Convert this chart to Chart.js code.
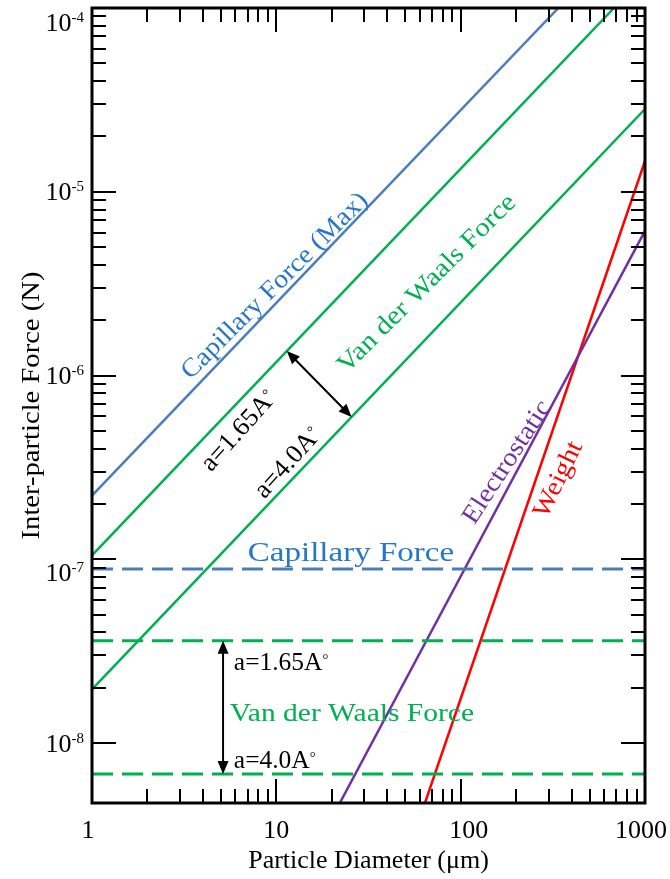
<!DOCTYPE html>
<html>
<head>
<meta charset="utf-8">
<script src="https://cdn.jsdelivr.net/npm/chart.js@4.4.1/dist/chart.umd.min.js"></script>
<style>
  html, body { margin: 0; padding: 0; background: #ffffff; }
  canvas { display: block; }
</style>
</head>
<body>
<canvas id="forces" width="670" height="879"></canvas>
<script>
// Inter-particle forces versus particle diameter (log-log)

// Axis ranges
const diameterRange = [1, 1000];          // µm
const forceRange = [4.72e-9, 1.0e-4];     // N

// Tick labels
const xTickValues = [1, 10, 100, 1000];
const xTickLabels = ['1', '10', '100', '1000'];
const yTickExponents = [-8, -7, -6, -5, -4];

// Force laws for rough contact: end points [diameter µm] -> [force N]
const capMaxDiam = [1, 339];
const capMaxForce = [2.22e-7, 1.0e-4];
const vdw165Diam = [1, 679];
const vdw165Force = [1.05e-7, 1.0e-4];
const vdw40Diam = [1, 1000];
const vdw40Force = [1.96e-8, 2.82e-5];
const elecDiam = [22.1, 1000];
const elecForce = [4.72e-9, 6.12e-6];
const weightDiam = [64.0, 1000];
const weightForce = [4.72e-9, 1.47e-5];

// Size-independent forces (flat lines across the whole range)
const capFlatForce = 8.87e-8;
const vdw165FlatForce = 3.61e-8;
const vdw40FlatForce = 6.79e-9;

const BLUE_LINE = '#4a7ebb';
const BLUE_TEXT = '#2677c8';
const GREEN = '#00b050';
const PURPLE = '#7030a0';
const RED = '#ff0000';
const FONT = '"Liberation Serif", "Times New Roman", serif';

function pairs(xs, ys) { return xs.map((x, i) => ({ x: x, y: ys[i] })); }
function flat(v) { return diameterRange.map(x => ({ x: x, y: v })); }

function solid(data, color) {
  return { data: data, borderColor: color, borderWidth: 2.5, showLine: true,
           pointRadius: 0, fill: false };
}
function dashed(data, color) {
  return { data: data, borderColor: color, borderWidth: 3, showLine: true,
           borderDash: [21, 9], pointRadius: 0, fill: false };
}

const datasets = [
  dashed(flat(capFlatForce), BLUE_LINE),
  dashed(flat(vdw165FlatForce), GREEN),
  dashed(flat(vdw40FlatForce), GREEN),
  solid(pairs(capMaxDiam, capMaxForce), BLUE_LINE),
  solid(pairs(vdw165Diam, vdw165Force), GREEN),
  solid(pairs(vdw40Diam, vdw40Force), GREEN),
  solid(pairs(elecDiam, elecForce), PURPLE),
  solid(pairs(weightDiam, weightForce), RED)
];

// force on a power-law line at diameter d (interpolated in log space)
function onLine(xs, ys, d) {
  const t = (Math.log10(d) - Math.log10(xs[0])) / (Math.log10(xs[1]) - Math.log10(xs[0]));
  return Math.pow(10, Math.log10(ys[0]) + t * (Math.log10(ys[1]) - Math.log10(ys[0])));
}

// draws text made of runs (normal + superscript pieces); stretch widens glyphs
function drawRuns(ctx, runs, x, y, angleDeg, align, color, middle, stretch) {
  const sx = stretch || 1;
  ctx.save();
  ctx.translate(x, y);
  ctx.rotate(angleDeg * Math.PI / 180);
  ctx.scale(sx, 1);
  ctx.fillStyle = color;
  ctx.textBaseline = 'alphabetic';
  let total = 0;
  runs.forEach(r => {
    ctx.font = r.size + 'px ' + FONT;
    r.w = ctx.measureText(r.text).width;
    total += r.w;
  });
  let cx = align === 'center' ? -total / 2 : (align === 'right' ? -total : 0);
  const dy = middle ? runs[0].size * 0.33 : 0;
  runs.forEach(r => {
    ctx.font = r.size + 'px ' + FONT;
    ctx.fillText(r.text, cx, dy - (r.rise || 0));
    cx += r.w;
  });
  ctx.restore();
}

function arrowHead(ctx, tx, ty, fromX, fromY) {
  const a = Math.atan2(ty - fromY, tx - fromX);
  const len = 13, half = 5.5;
  ctx.beginPath();
  ctx.moveTo(tx, ty);
  ctx.lineTo(tx - len * Math.cos(a) + half * Math.sin(a), ty - len * Math.sin(a) - half * Math.cos(a));
  ctx.lineTo(tx - len * Math.cos(a) - half * Math.sin(a), ty - len * Math.sin(a) + half * Math.cos(a));
  ctx.closePath();
  ctx.fill();
}

function doubleArrow(ctx, x1, y1, x2, y2) {
  ctx.save();
  ctx.strokeStyle = '#000';
  ctx.fillStyle = '#000';
  ctx.lineWidth = 2;
  const a = Math.atan2(y2 - y1, x2 - x1);
  ctx.beginPath();
  ctx.moveTo(x1 + 8 * Math.cos(a), y1 + 8 * Math.sin(a));
  ctx.lineTo(x2 - 8 * Math.cos(a), y2 - 8 * Math.sin(a));
  ctx.stroke();
  arrowHead(ctx, x1, y1, x2, y2);
  arrowHead(ctx, x2, y2, x1, y1);
  ctx.restore();
}

const TXT = 26;
const SUP = 15;
const WIDE = 1.1;

// frame, inward ticks on all sides, tick labels and axis titles
const framePlugin = {
  id: 'frame',
  afterDatasetsDraw(chart) {
    const ctx = chart.ctx;
    const ca = chart.chartArea;
    const xs = chart.scales.x, ys = chart.scales.y;
    ctx.save();
    ctx.strokeStyle = '#000';
    ctx.lineWidth = 2;
    const MAJ = 24, MIN = 14;
    // x ticks
    for (let e = 0; e < 3; e++) {
      for (let m = 1; m <= 9; m++) {
        const v = m * Math.pow(10, e);
        const px = Math.round(xs.getPixelForValue(v));
        const len = m === 1 ? MAJ : MIN;
        ctx.beginPath();
        ctx.moveTo(px, ca.bottom); ctx.lineTo(px, ca.bottom - len);
        ctx.moveTo(px, ca.top); ctx.lineTo(px, ca.top + len);
        ctx.stroke();
      }
    }
    // y ticks
    for (let e = yTickExponents[0]; e < yTickExponents[yTickExponents.length - 1]; e++) {
      for (let m = 1; m <= 9; m++) {
        const v = m * Math.pow(10, e);
        const py = Math.round(ys.getPixelForValue(v));
        const len = m === 1 ? MAJ : MIN;
        ctx.beginPath();
        ctx.moveTo(ca.left, py); ctx.lineTo(ca.left + len, py);
        ctx.moveTo(ca.right, py); ctx.lineTo(ca.right - len, py);
        ctx.stroke();
      }
    }
    // frame
    ctx.lineWidth = 3;
    ctx.strokeRect(ca.left, ca.top, ca.right - ca.left, ca.bottom - ca.top);
    ctx.restore();

    // x tick labels
    const xShift = { 1: -4, 100: 8, 1000: -4 };
    xTickValues.forEach((v, i) => {
      const px = xs.getPixelForValue(v) + (xShift[v] || 0);
      drawRuns(ctx, [{ text: xTickLabels[i], size: TXT }], px, ca.bottom + 26, 0, 'center', '#000', true);
    });
    // y tick labels: 10 with superscript exponent
    const yShift = { '-4': 14, '-7': 13 };
    yTickExponents.forEach(e => {
      const py = ys.getPixelForValue(Math.pow(10, e)) + (yShift[e] || 0);
      drawRuns(ctx, [{ text: '10', size: TXT }, { text: String(e), size: SUP, rise: 9 }],
               ca.left - 8, py, 0, 'right', '#000', true);
    });
    // axis titles
    drawRuns(ctx, [{ text: 'Particle Diameter (\u03bcm)', size: TXT }],
             (ca.left + ca.right) / 2, 868, 0, 'center', '#000', false);
    drawRuns(ctx, [{ text: 'Inter-particle Force (N)', size: TXT }],
             30, (ca.top + ca.bottom) / 2, -90, 'center', '#000', true, WIDE);
  }
};

// curve names, spacing labels and arrows
const labelPlugin = {
  id: 'labels',
  afterDraw(chart) {
    const ctx = chart.ctx;
    const xs = chart.scales.x, ys = chart.scales.y;
    const P = (d, f) => [xs.getPixelForValue(d), ys.getPixelForValue(f)];
    const deg = String.fromCharCode(176);

    const rotated = [
      { runs: [{ text: 'Capillary Force (Max)', size: TXT }], at: [9.69, 3.11e-6], angle: -45, color: BLUE_TEXT, s: 1.08 },
      { runs: [{ text: 'Van der Waals Force', size: TXT }], at: [64.8, 3.2e-6], angle: -45, color: GREEN, s: 1.12 },
      { runs: [{ text: 'a=1.65A', size: TXT }, { text: deg, size: SUP, rise: 6 }], at: [6.18, 5.06e-7], angle: -48, color: '#000', s: 1.03 },
      { runs: [{ text: 'a=4.0A', size: TXT }, { text: deg, size: SUP, rise: 6 }], at: [11.42, 3.39e-7], angle: -48, color: '#000', s: 1.03 },
      { runs: [{ text: 'Electrostatic', size: TXT }], at: [176, 3.41e-7], angle: -57, color: PURPLE, s: 1.09 },
      { runs: [{ text: 'Weight', size: TXT }], at: [333, 2.74e-7], angle: -64, color: RED, s: 1.1 }
    ];
    rotated.forEach(l => {
      const p = P(l.at[0], l.at[1]);
      drawRuns(ctx, l.runs, p[0], p[1], l.angle, 'center', l.color, true, l.s);
    });

    const flatLabels = [
      { runs: [{ text: 'Capillary Force', size: 28 }], at: [25.4, 9.8e-8], align: 'center', color: BLUE_TEXT, s: 1.18 },
      { runs: [{ text: 'a=1.65A', size: TXT }, { text: deg, size: SUP, rise: 6 }], at: [5.88, 2.5e-8], align: 'left', color: '#000', s: 0.98 },
      { runs: [{ text: 'Van der Waals Force', size: TXT }], at: [5.59, 1.32e-8], align: 'left', color: GREEN, s: 1.135 },
      { runs: [{ text: 'a=4.0A', size: TXT }, { text: deg, size: SUP, rise: 6 }], at: [5.88, 7.33e-9], align: 'left', color: '#000', s: 0.98 }
    ];
    flatLabels.forEach(l => {
      const p = P(l.at[0], l.at[1]);
      drawRuns(ctx, l.runs, p[0], p[1], 0, l.align, l.color, false, l.s);
    });

    // spacing between the two rough-contact van der Waals lines
    const a1 = P(11.4, onLine(vdw165Diam, vdw165Force, 11.4));
    const a2 = P(25.6, onLine(vdw40Diam, vdw40Force, 25.6));
    doubleArrow(ctx, a1[0], a1[1], a2[0], a2[1]);
    // spacing between the two flat van der Waals levels
    const b1 = P(5.14, vdw165FlatForce);
    const b2 = P(5.14, vdw40FlatForce);
    doubleArrow(ctx, b1[0], b1[1], b2[0], b2[1]);
  }
};

new Chart(document.getElementById('forces'), {
  type: 'scatter',
  data: { datasets: datasets },
  options: {
    responsive: false,
    animation: false,
    devicePixelRatio: 1,
    layout: { padding: { top: 8, right: 25, left: 0, bottom: 0 } },
    plugins: { legend: { display: false }, tooltip: { enabled: false } },
    scales: {
      x: {
        type: 'logarithmic', min: diameterRange[0], max: diameterRange[1],
        ticks: { display: false }, grid: { display: false }, border: { display: false },
        afterFit(s) { s.height = 76; }
      },
      y: {
        type: 'logarithmic', min: forceRange[0], max: forceRange[1],
        ticks: { display: false }, grid: { display: false }, border: { display: false },
        afterFit(s) { s.width = 92; }
      }
    }
  },
  plugins: [framePlugin, labelPlugin]
});
</script>
</body>
</html>
